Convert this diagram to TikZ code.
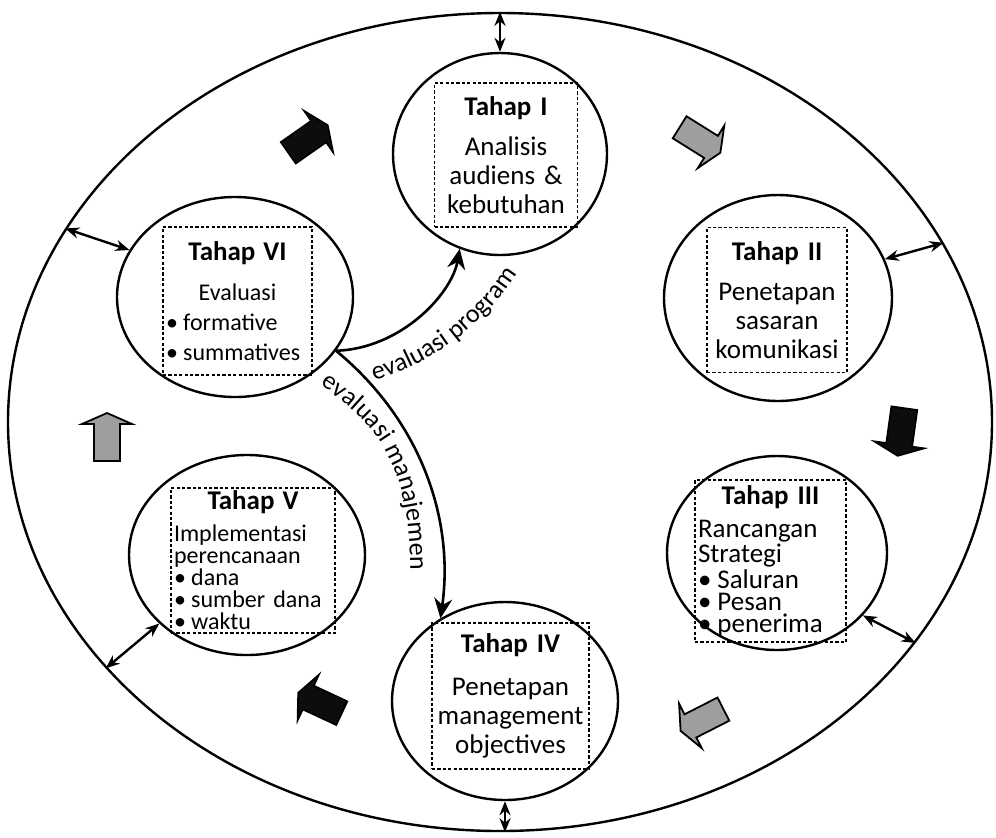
\documentclass[tikz,border=0pt]{standalone}
\usepackage{fontspec}
\setmainfont{Carlito}
\usetikzlibrary{shapes.geometric,arrows.meta,decorations.text}
\definecolor{cHitam}{gray}{0.05}
\definecolor{cAbu}{gray}{0.62}
\newcommand{\tengah}[1]{\makebox[\linewidth]{#1}}
\newcommand{\judul}[1]{\tengah{\fontsize{13.5}{14}\selectfont\bfseries #1}}
\newcommand{\butir}{\textbullet\hspace{0.22em}}
\tikzset{
  >={Stealth[length=7pt,width=5.5pt]},
  lingkaran/.style={ellipse, draw, line width=1.2pt, fill=white, inner sep=0pt},
  kotak/.style={draw, line width=0.9pt, dash pattern=on 1.6pt off 1.1pt, inner sep=1.5pt},
  teks/.style 2 args={font=\fontsize{#1}{#2}\selectfont},
  dua/.style={<->, line width=1.2pt},
  evaluasi/.style={-{Stealth[length=10pt,width=9pt]}, line width=1.3pt},
  blokpanah/.style={draw, line width=0.9pt, line join=miter},
  label/.style={decorate, decoration={text along path, text={|\fontsize{13}{13}\selectfont|#1}}},
}
\begin{document}
\begin{tikzpicture}[x=0.5pt, y=-0.5pt]
  \useasboundingbox (0,0) rectangle (996,837);
  % elips luar
  \node[ellipse, draw, line width=1.2pt, inner sep=0pt, minimum width=492pt, minimum height=409pt] (luar) at (500,422) {};
  % tahap-tahap
  \node[lingkaran, minimum width=107pt, minimum height=101pt] (t1) at (500,154) {};
  \node[lingkaran, minimum width=114pt, minimum height=103pt] (t2) at (778,298) {};
  \node[lingkaran, minimum width=110pt, minimum height=97pt] (t3) at (777,553) {};
  \node[lingkaran, minimum width=113pt, minimum height=99pt] (t4) at (505,701) {};
  \node[lingkaran, minimum width=118pt, minimum height=100pt] (t5) at (247,555) {};
  \node[lingkaran, minimum width=118pt, minimum height=100pt] (t6) at (235,297) {};
  % kotak isi
  \node[kotak, teks={13.5}{14.5}, align=center, text width=68.5pt, minimum height=72pt] (b1) at (506,155)
    {\judul{Tahap I}\\[5.5pt]Analisis\\audiens \&\\kebutuhan};
  \node[kotak, teks={13.5}{14.5}, align=center, text width=67pt, minimum height=72.5pt] (b2) at (777,300)
    {\judul{Tahap II}\\[5.5pt]Penetapan\\sasaran\\komunikasi};
  \node[kotak, teks={13.5}{11}, align=left, text width=72.5pt, minimum height=81pt] (b3) at (770.5,561)
    {\judul{Tahap III}\\[5.5pt]Rancangan\\Strategi\\\butir Saluran\\\butir Pesan\\\butir penerima};
  \node[kotak, teks={13.5}{14.5}, align=center, text width=75.5pt, minimum height=73pt] (b4) at (510.5,696)
    {\judul{Tahap IV}\\[7pt]Penetapan\\management\\objectives};
  \node[kotak, teks={12}{11}, align=left, text width=79pt, minimum height=72.5pt] (b5) at (253,560.5)
    {\judul{Tahap V}\\[5pt]Implementasi\\perencanaan\\\butir dana\\\butir sumber dana\\\butir waktu};
  \node[kotak, teks={12}{15}, align=left, text width=71.5pt, minimum height=74pt] (b6) at (237.5,301)
    {\judul{Tahap VI}\\[5pt]\tengah{Evaluasi}\\\butir formative\\\butir summatives};
  % panah dua arah ke elips luar
  \draw[dua] (t1.north) -- (luar.north);
  \draw[dua] (t2.20) -- (luar.22);
  \draw[dua] (t3.-36) -- (luar.-28);
  \draw[dua] (t4.south) -- (t4.south |- luar.south);
  \draw[dua] (t5.218) -- (luar.212);
  \draw[dua] (t6.156) -- (luar.156);
  % panah blok antar tahap
  \foreach \ax/\ay/\sudut/\warna in {308/139/35/cHitam, 700/140/-32/cAbu, 901/432/-98/cHitam,
                                    702/720/207/cAbu, 320/703/155/cHitam, 107/437/90/cAbu} {
    \begin{scope}[shift={(\ax,\ay)}, rotate=\sudut]
      \filldraw[blokpanah, fill=\warna] (-24,-13) -- (13,-13) -- (13,-25) -- (24,0)
        -- (13,25) -- (13,13) -- (-24,13) -- cycle;
    \end{scope}
  }
  % evaluasi
  \draw[evaluasi] (t6.-28) .. controls +(65,-2) and +(-8,45) .. (t1.247);
  \draw[evaluasi] (t6.-28) .. controls +(85,70) and +(14,-99) .. (t4.128);
  \path[label={evaluasi program}] (374,380) .. controls (425,367) and (477,332) .. (514,278);
  \path[label={evaluasi manajemen}] (320,385) .. controls (390,430) and (413,482) .. (410,592);
\end{tikzpicture}
\end{document}
